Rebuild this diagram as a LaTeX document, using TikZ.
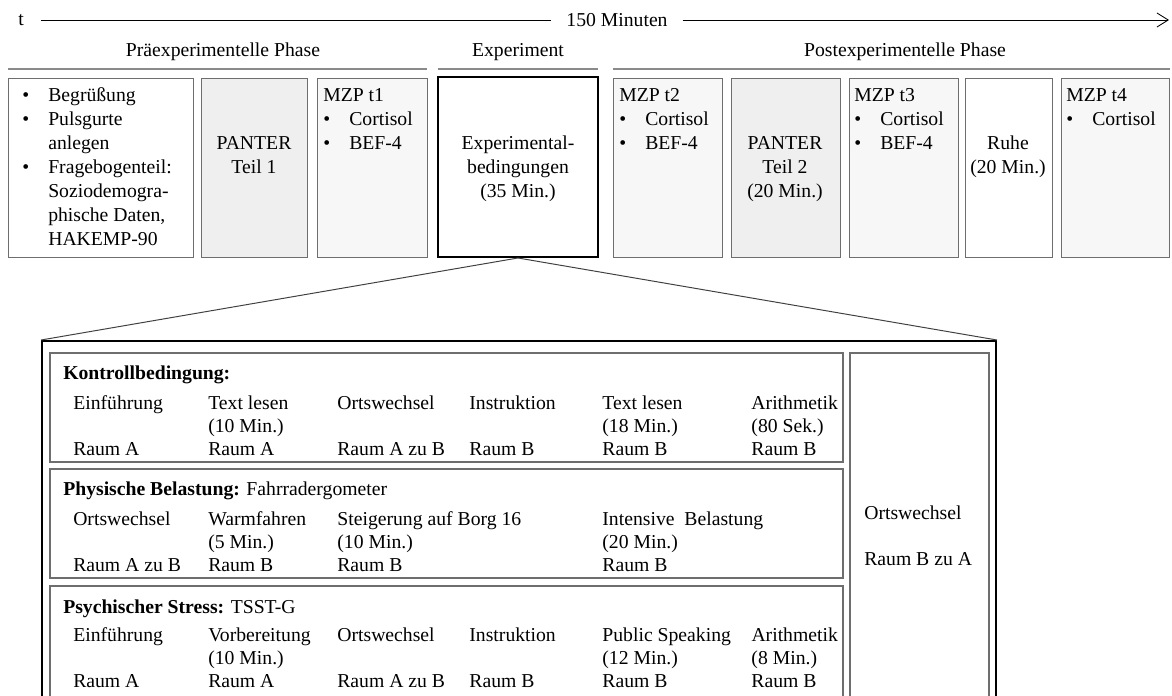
\documentclass[tikz,border=0pt]{standalone}
\usepackage{fontspec}
\setmainfont{Liberation Serif}
\usetikzlibrary{fit,arrows.meta}

\definecolor{rahmen}{HTML}{6E6E6E}
\definecolor{linie}{HTML}{8A8A8A}
\definecolor{panter}{HTML}{EFEFEF}
\definecolor{mzp}{HTML}{F7F7F7}

\newcommand{\ablauf}[1]{\begin{tabular}[t]{@{}p{96pt}@{}p{91.8pt}@{}p{93.9pt}@{}p{94.6pt}@{}p{106pt}@{}l@{}}#1\end{tabular}}
\newcommand{\liste}[1]{\begin{tabular}[t]{@{}p{18.5pt}@{}l@{}}#1\end{tabular}}
\newcommand{\mitte}[1]{\begin{tabular}[t]{@{}c@{}}#1\end{tabular}}

\tikzset{
  kasten/.style={draw=rahmen, line width=0.7pt, inner sep=0pt},
  dick/.style={draw=black, line width=1.4pt, inner sep=0pt},
  phase/.style={draw=linie, line width=1.4pt},
  trichter/.style={draw=black!75, line width=0.7pt},
  txt/.style={font=\fontsize{14}{17}\selectfont, inner sep=0pt},
  zeile/.style={font=\fontsize{14}{16.4}\selectfont, inner sep=0pt, anchor=base west},
}

\begin{document}
\begin{tikzpicture}[x=0.025cm, y=-0.025cm]
\useasboundingbox (0,0) rectangle (1172,696);
\clip (0,0) rectangle (1172,696);

% Zeitachse
\node[txt, inner xsep=12pt] (t) at (21,20) {t};
\node[txt, inner xsep=10.5pt] (dauer) at (617,20) {150 Minuten};
\coordinate (ende) at (1169,20);
\draw[line width=0.6pt] (t) -- (dauer);
\draw[line width=0.6pt, -{Straight Barb[length=8pt,width=10pt]}] (dauer) -- (ende);

% Phasen
\node[txt] (prae) at (223,52) {Präexperimentelle Phase};
\node[txt] (expkopf) at (518,52) {Experiment};
\node[txt] (post) at (905,52) {Postexperimentelle Phase};
\draw[phase] (8,69) -- (427,69);
\draw[phase] (438,69) -- (598,69);
\draw[phase] (613,69) -- (1170,69);

% Ablauf oben
\node[kasten, fit={(8,78) (193,257)}] (b1) {};
\node[kasten, fill=panter, fit={(201,78) (307,257)}] (b2) {};
\node[kasten, fill=mzp, fit={(317,78) (427,257)}] (b3) {};
\node[dick, fit={(438,77) (598,257)}] (exp) {};
\node[kasten, fill=mzp, fit={(613,78) (722,257)}] (b5) {};
\node[kasten, fill=panter, fit={(731,78) (840,257)}] (b6) {};
\node[kasten, fill=mzp, fit={(849,78) (958,257)}] (b7) {};
\node[kasten, fit={(965,78) (1052,257)}] (b8) {};
\node[kasten, fill=mzp, fit={(1061,78) (1169,257)}] (b9) {};

\node[txt, anchor=base west] (begruessung) at (22,102) {\liste{
  \textbullet & Begrüßung\\
  \textbullet & Pulsgurte\\
   & anlegen\\
  \textbullet & Fragebogenteil:\\
   & Soziodemogra-\\
   & phische Daten,\\
   & HAKEMP-90}};
\node[txt, anchor=base] (panter1) at (254,150) {\mitte{PANTER\\ Teil 1}};
\node[txt, anchor=base west] (mzp1) at (323,102) {\liste{
  \multicolumn{2}{@{}l@{}}{MZP t1}\\
  \textbullet & Cortisol\\
  \textbullet & BEF-4}};
\node[txt, anchor=base] (bedingungen) at (518,150) {\mitte{Experimental-\\ bedingungen\\ (35 Min.)}};
\node[txt, anchor=base west] (mzp2) at (619,102) {\liste{
  \multicolumn{2}{@{}l@{}}{MZP t2}\\
  \textbullet & Cortisol\\
  \textbullet & BEF-4}};
\node[txt, anchor=base] (panter2) at (785,150) {\mitte{PANTER\\ Teil 2\\ (20 Min.)}};
\node[txt, anchor=base west] (mzp3) at (854,102) {\liste{
  \multicolumn{2}{@{}l@{}}{MZP t3}\\
  \textbullet & Cortisol\\
  \textbullet & BEF-4}};
\node[txt, anchor=base] (ruhe) at (1008,150) {\mitte{Ruhe\\ (20 Min.)}};
\node[txt, anchor=base west] (mzp4) at (1066,102) {\liste{
  \multicolumn{2}{@{}l@{}}{MZP t4}\\
  \textbullet & Cortisol}};

% Experimentalbedingungen im Detail
\node[dick, fit={(42,341) (996,720)}] (gross) {};
\draw[trichter] (exp.south) -- (gross.north west);
\draw[trichter] (exp.south) -- (gross.north east);

\node[kasten, line width=1pt, fit={(50,353) (843,462)}] (kontroll) {};
\node[kasten, line width=1pt, fit={(50,469) (843,578)}] (physisch) {};
\node[kasten, line width=1pt, fit={(50,586) (843,720)}] (psychisch) {};
\node[kasten, line width=1pt, fit={(850,353) (989,720)}] (rueck) {};

\node[zeile] (kontrollkopf) at (63,379) {\textbf{Kontrollbedingung:}};
\node[zeile] (kontrollplan) at (73,409) {\ablauf{
  Einführung & Text lesen & Ortswechsel & Instruktion & Text lesen & Arithmetik\\
   & (10 Min.) & & & (18 Min.) & (80 Sek.)\\
  Raum A & Raum A & Raum A zu B & Raum B & Raum B & Raum B}};

\node[zeile] (physischkopf) at (63,495) {\textbf{Physische Belastung:} Fahrradergometer};
\node[zeile] (physischplan) at (73,525) {\ablauf{
  Ortswechsel & Warmfahren & \makebox[0pt][l]{Steigerung auf Borg 16} & & \makebox[0pt][l]{Intensive\ \ Belastung}\\
   & (5 Min.) & (10 Min.) & & (20 Min.)\\
  Raum A zu B & Raum B & Raum B & & Raum B}};

\node[zeile] (psychischkopf) at (63,613) {\textbf{Psychischer Stress:} TSST-G};
\node[zeile] (psychischplan) at (73,641) {\ablauf{
  Einführung & Vorbereitung & Ortswechsel & Instruktion & Public Speaking & Arithmetik\\
   & (10 Min.) & & & (12 Min.) & (8 Min.)\\
  Raum A & Raum A & Raum A zu B & Raum B & Raum B & Raum B}};

\node[zeile] (rueckweg) at (864,519) {\begin{tabular}[t]{@{}l@{}}Ortswechsel\\ \\ Raum B zu A\end{tabular}};
\end{tikzpicture}
\end{document}
